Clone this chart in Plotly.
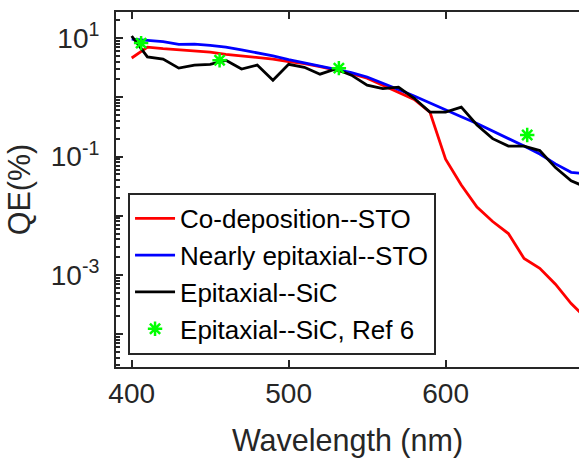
import plotly.graph_objects as go

wavelength = [400, 410, 420, 430, 440, 450, 460, 470, 480, 490, 500, 510, 520, 530, 540,
              550, 560, 570, 580, 590, 600, 610, 620, 630, 640, 650, 660, 670, 680, 690, 700]

qe_codep_sto = [4.6, 7.0, 6.6, 6.3, 6.1, 5.8, 5.3, 5.0, 4.7, 4.4, 4.0, 3.7, 3.3, 2.9, 2.5,
                2.1, 1.6, 1.2, 0.92, 0.56, 0.09, 0.033, 0.014, 0.008, 0.005, 0.0019, 0.0013,
                7e-4, 3.3e-4, 1.8e-4, 9e-5]

qe_nearly_epi_sto = [9.6, 9.2, 8.7, 7.8, 7.9, 7.5, 7.0, 6.3, 5.6, 5.0, 4.3, 3.8, 3.4, 3.0, 2.6,
                     2.2, 1.7, 1.35, 1.05, 0.8, 0.6, 0.47, 0.36, 0.27, 0.2, 0.15, 0.11, 0.075,
                     0.054, 0.05, 0.048]

qe_epi_sic = [10.8, 4.8, 4.4, 3.1, 3.5, 3.6, 4.2, 3.0, 3.5, 1.94, 3.6, 3.2, 2.45, 3.0, 2.36,
              1.6, 1.4, 1.48, 0.96, 0.56, 0.56, 0.68, 0.34, 0.20, 0.15, 0.15, 0.126, 0.065,
              0.039, 0.03, 0.028]

ref6_wavelength = [406, 456, 532, 652]
ref6_qe = [8.2, 4.2, 3.1, 0.23]

ytick_vals = [1e-4, 1e-3, 1e-2, 1e-1, 1, 10]
ytick_text = ["", "10<sup>-3</sup>", "", "10<sup>-1</sup>", "", "10<sup>1</sup>"]
xtick_vals = [400, 500, 600]

FONT = "Liberation Sans, Arial, sans-serif"
AX = "#262626"

fig = go.Figure()
fig.add_trace(go.Scatter(x=wavelength, y=qe_codep_sto, mode="lines",
                         name="Co-deposition--STO", line=dict(color="#FF0000", width=2.8)))
fig.add_trace(go.Scatter(x=wavelength, y=qe_nearly_epi_sto, mode="lines",
                         name="Nearly epitaxial--STO", line=dict(color="#0000FF", width=2.8)))
fig.add_trace(go.Scatter(x=wavelength, y=qe_epi_sic, mode="lines",
                         name="Epitaxial--SiC", line=dict(color="#000000", width=2.8)))
fig.add_trace(go.Scatter(x=ref6_wavelength, y=ref6_qe, mode="markers",
                         name="Epitaxial--SiC, Ref 6",
                         marker=dict(symbol="asterisk-open", size=12, color="#00FF00",
                                     line=dict(color="#00FF00", width=2.5))))

fig.update_layout(
    width=579, height=458,
    margin=dict(l=116, r=0, t=12, b=91),
    paper_bgcolor="white", plot_bgcolor="white",
    font=dict(family=FONT, color=AX, size=28),
    showlegend=True,
    legend=dict(x=0.026, y=0.034, xanchor="left", yanchor="bottom",
                bgcolor="white", bordercolor=AX, borderwidth=2,
                font=dict(size=26, color="#000000"), tracegroupgap=0, itemwidth=40),
)
fig.update_xaxes(range=[390, 685], tickvals=xtick_vals, ticks="inside", ticklen=7,
                 tickwidth=2, tickcolor=AX, showline=True, linecolor=AX, linewidth=2,
                 mirror="ticks", showgrid=False, zeroline=False, automargin=False,
                 tickfont=dict(size=28, color=AX),
                 title=dict(text="Wavelength (nm)", font=dict(size=30.5, color=AX), standoff=22))
fig.update_yaxes(type="log", range=[-4.553, 1.439], tickvals=ytick_vals, ticktext=ytick_text,
                 ticks="inside", ticklen=7, tickwidth=2, tickcolor=AX,
                 minor=dict(ticks="inside", ticklen=4, tickwidth=1.5, tickcolor=AX,
                            dtick="D1", showgrid=False),
                 showline=True, linecolor=AX, linewidth=2, mirror=False,
                 showgrid=False, zeroline=False, automargin=False, ticklabelstandoff=9,
                 tickfont=dict(size=28, color=AX),
                 title=dict(text="QE(%)", font=dict(size=30.5, color=AX), standoff=11))

fig.write_html("out.html", config={"displayModeBar": False},
               post_script="document.body.style.margin='0';")
